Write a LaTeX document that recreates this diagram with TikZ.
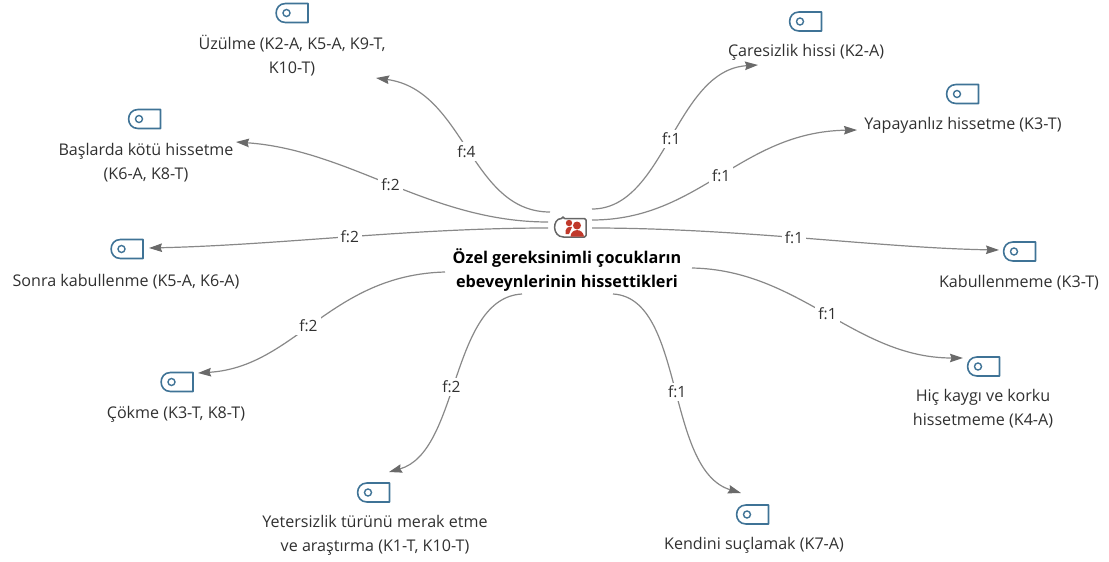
\documentclass[tikz,border=0pt]{standalone}
\usepackage{fontspec}
\setmainfont{Open Sans}
\usetikzlibrary{arrows.meta}
\definecolor{tagblue}{HTML}{3F7396}
\definecolor{edgegray}{HTML}{888888}
\definecolor{tipgray}{HTML}{6A6A6A}
\definecolor{txt}{HTML}{303030}
\definecolor{hubred}{HTML}{C0392B}
\tikzset{
  x=1pt,y=-1pt,
  conn/.style={draw=edgegray,line width=1.2pt,-{Stealth[length=13pt,width=8.5pt,inset=1.5pt,color=tipgray]}},
  edgelabel/.style={fill=white,inner sep=3pt,font=\fontsize{15.5}{17}\selectfont,text=txt},
  lab/.style={align=center,inner sep=0pt,font=\fontsize{16.1}{23.5}\selectfont,text=txt},
  hublab/.style={align=center,inner sep=0pt,font=\fontsize{16.2}{24.5}\selectfont\bfseries,text=black},
  tagicon/.pic={
    \draw[tagblue,line width=1.6pt,line join=round] (-7,-9.5) -- (15.5,-9.5) -- (15.5,9.5) -- (-7,9.5)
      .. controls (-19.5,9.5) and (-19.5,-9.5) .. (-7,-9.5) -- cycle;
    \draw[tagblue,line width=1.4pt] (-6,0) circle (3.5);
  }
}
\begin{document}
\begin{tikzpicture}
\useasboundingbox (0,0) rectangle (1109,562);
% hub
\node[hublab] (hub) at (567,270) {Özel gereksinimli çocukların\\ebeveynlerinin hissettikleri};
\node[inner sep=0pt,minimum width=30pt,minimum height=19pt] (hubicon) at (571,228) {};
\draw[black!60,line width=1.5pt,line join=round,rounded corners=1.5pt] (563,218.5) -- (586,218.5) -- (586,237) -- (565,237)
  .. controls (552,237) and (552,218.5) .. (563,218.5) -- cycle;
\fill[hubred] (569,223) circle (3.2) (565.5,234) .. controls (565,228) and (568,226) .. (572,227) -- (569,234) -- cycle;
\fill[hubred] (577,225.5) circle (4) (570.5,236.5) .. controls (571,228) and (583,228) .. (584,236.5) -- cycle;
% tags
\pic at (292.5,13) {tagicon};
\pic at (145,119) {tagicon};
\pic at (127.5,249) {tagicon};
\pic at (177.5,382) {tagicon};
\pic at (374,492.5) {tagicon};
\pic at (753,514.5) {tagicon};
\pic at (984,366.5) {tagicon};
\pic at (1020,251.5) {tagicon};
\pic at (963,94) {tagicon};
\pic at (806,21.5) {tagicon};
% labels
\node[lab] (uzulme) at (292,55.5) {Üzülme (K2-A, K5-A, K9-T,\\K10-T)};
\node[lab] (baslarda) at (146,162.5) {Başlarda kötü hissetme\\(K6-A, K8-T)};
\node[lab] (sonra) at (126,281.5) {Sonra kabullenme (K5-A, K6-A)};
\node[lab] (cokme) at (176,414.5) {Çökme (K3-T, K8-T)};
\node[lab] (yeter) at (375,535.5) {Yetersizlik türünü merak etme\\ve araştırma (K1-T, K10-T)};
\node[lab] (kendini) at (754,545.5) {Kendini suçlamak (K7-A)};
\node[lab] (hic) at (983,408.5) {Hiç kaygı ve korku\\hissetmeme (K4-A)};
\node[lab] (kabul) at (1019,282.5) {Kabullenmeme (K3-T)};
\node[lab] (yapa) at (963,125.5) {Yapayanlız hissetme (K3-T)};
\node[lab] (care) at (806,52.5) {Çaresizlik hissi (K2-A)};
% connector ends
\coordinate (sU) at (550,212); \coordinate (eU) at (376,78);
\coordinate (sB) at (548,222); \coordinate (eB) at (236,142);
\coordinate (sS) at (548,228); \coordinate (eS) at (149,248);
\coordinate (sC) at (445,272); \coordinate (eC) at (198,373);
\coordinate (sY) at (522,294); \coordinate (eY) at (389,472);
\coordinate (sK) at (613,294); \coordinate (eK) at (741,493);
\coordinate (sH) at (692,268); \coordinate (eH) at (963,358);
\coordinate (sA) at (592,228); \coordinate (eA) at (999,250);
\coordinate (sP) at (592,220); \coordinate (eP) at (857,130);
\coordinate (sR) at (592,209); \coordinate (eR) at (758,65);
% connectors
\draw[conn] (sU) .. controls (470,212) and (465,90) .. node[edgelabel,pos=.5,yshift=-2pt] {f:4} (eU);
\draw[conn] (sB) .. controls (430,222) and (350,150) .. node[edgelabel,pos=.5] {f:2} (eB);
\draw[conn] (sS) .. controls (410,228) and (280,245) .. node[edgelabel,pos=.49] {f:2} (eS);
\draw[conn] (sC) .. controls (330,275) and (295,367) .. node[edgelabel,pos=.53] {f:2} (eC);
\draw[conn] (sY) .. controls (450,298) and (460,452) .. node[edgelabel,pos=.54] {f:2} (eY);
\draw[conn] (sK) .. controls (685,298) and (665,470) .. node[edgelabel,pos=.52] {f:1} (eK);
\draw[conn] (sH) .. controls (800,270) and (855,358) .. node[edgelabel,pos=.5] {f:1} (eH);
\draw[conn] (sA) .. controls (740,228) and (880,248) .. node[edgelabel,pos=.47] {f:1} (eA);
\draw[conn] (sP) .. controls (700,220) and (740,132) .. node[edgelabel,pos=.5] {f:1} (eP);
\draw[conn] (sR) .. controls (665,209) and (675,70) .. node[edgelabel,pos=.5] {f:1} (eR);
\end{tikzpicture}
\end{document}
